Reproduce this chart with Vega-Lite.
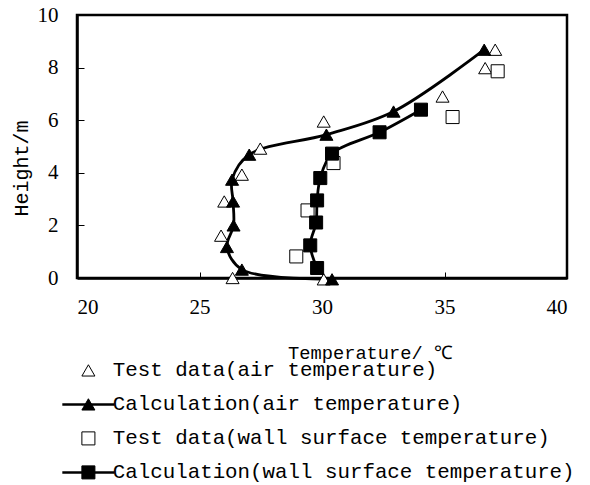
{
  "$schema": "https://vega.github.io/schema/vega-lite/v6.json",
  "autosize": {"type": "none"},
  "width": 490,
  "height": 263,
  "padding": {"left": 77, "top": 15, "right": 23, "bottom": 207},
  "background": "white",
  "config": {
    "view": {"stroke": "black", "strokeWidth": 2.5},
    "axis": {"grid": false, "domainColor": "black", "domainWidth": 2.5, "tickColor": "black", "tickWidth": 1, "labelColor": "black", "titleColor": "black", "labelFont": "Liberation Serif", "labelFontSize": 21, "titleFont": "Liberation Mono", "titleFontWeight": "normal"}
  },
  "resolve": {"scale": {"stroke": "independent"}, "legend": {"shape": "independent", "fill": "independent", "stroke": "independent"}},
  "data": {"values": [
    {"series": "Test data(air temperature)", "temp": 26.35, "height": 0.0},
    {"series": "Test data(air temperature)", "temp": 30.07, "height": -0.05},
    {"series": "Test data(air temperature)", "temp": 25.88, "height": 1.61},
    {"series": "Test data(air temperature)", "temp": 26.01, "height": 2.91},
    {"series": "Test data(air temperature)", "temp": 26.73, "height": 3.93},
    {"series": "Test data(air temperature)", "temp": 27.48, "height": 4.92},
    {"series": "Test data(air temperature)", "temp": 30.07, "height": 5.95},
    {"series": "Test data(air temperature)", "temp": 34.92, "height": 6.9},
    {"series": "Test data(air temperature)", "temp": 36.66, "height": 7.98},
    {"series": "Test data(air temperature)", "temp": 37.07, "height": 8.68},
    {"series": "Calculation(air temperature)", "temp": 30.41, "height": -0.05},
    {"series": "Calculation(air temperature)", "temp": 26.73, "height": 0.32},
    {"series": "Calculation(air temperature)", "temp": 26.12, "height": 1.18},
    {"series": "Calculation(air temperature)", "temp": 26.39, "height": 2.0},
    {"series": "Calculation(air temperature)", "temp": 26.37, "height": 2.91},
    {"series": "Calculation(air temperature)", "temp": 26.33, "height": 3.74},
    {"series": "Calculation(air temperature)", "temp": 27.03, "height": 4.69},
    {"series": "Calculation(air temperature)", "temp": 30.18, "height": 5.45},
    {"series": "Calculation(air temperature)", "temp": 32.92, "height": 6.33},
    {"series": "Calculation(air temperature)", "temp": 36.62, "height": 8.68},
    {"series": "Test data(wall surface temperature)", "temp": 28.95, "height": 0.82},
    {"series": "Test data(wall surface temperature)", "temp": 29.41, "height": 2.57},
    {"series": "Test data(wall surface temperature)", "temp": 30.47, "height": 4.37},
    {"series": "Test data(wall surface temperature)", "temp": 35.33, "height": 6.12},
    {"series": "Test data(wall surface temperature)", "temp": 37.17, "height": 7.86},
    {"series": "Calculation(wall surface temperature)", "temp": 29.8, "height": 0.38},
    {"series": "Calculation(wall surface temperature)", "temp": 29.52, "height": 1.24},
    {"series": "Calculation(wall surface temperature)", "temp": 29.76, "height": 2.11},
    {"series": "Calculation(wall surface temperature)", "temp": 29.8, "height": 2.95},
    {"series": "Calculation(wall surface temperature)", "temp": 29.93, "height": 3.8},
    {"series": "Calculation(wall surface temperature)", "temp": 30.41, "height": 4.73},
    {"series": "Calculation(wall surface temperature)", "temp": 32.35, "height": 5.54},
    {"series": "Calculation(wall surface temperature)", "temp": 34.04, "height": 6.4}
  ]},
  "encoding": {
    "x": {"field": "temp", "type": "quantitative", "scale": {"domain": [20, 40], "nice": false, "zero": false},
      "axis": {"values": [20, 25, 30, 35, 40], "tickSize": -6, "labelPadding": 24, "title": "Temperature/ ℃", "titleFontSize": 18.7, "titleX": 293, "titleY": 80, "titleAlign": "center", "titleBaseline": "alphabetic"}},
    "y": {"field": "height", "type": "quantitative", "scale": {"domain": [0, 10], "nice": false},
      "axis": {"values": [0, 2, 4, 6, 8, 10], "tickSize": -7, "labelPadding": 26, "title": "Height/m", "titleFontSize": 20, "titleX": -46, "titleY": 153, "titleAlign": "center"}}
  },
  "layer": [
    {
      "transform": [{"filter": "indexof(datum.series, 'Calculation') === 0"}],
      "mark": {"type": "line", "interpolate": "catmull-rom", "strokeWidth": 2.8},
      "encoding": {
        "order": {"field": "height", "type": "quantitative"},
        "stroke": {"field": "series", "type": "nominal",
          "scale": {"domain": ["Test data(air temperature)", "Calculation(air temperature)", "Test data(wall surface temperature)", "Calculation(wall surface temperature)"], "range": ["transparent", "black", "transparent", "black"]},
          "legend": {"orient": "none", "legendX": 1, "legendY": 345, "direction": "vertical", "title": null, "padding": 0, "labelFont": "Liberation Mono", "labelFontSize": 20.8, "labelExpr": "''", "labelLimit": 0, "labelOffset": 14, "rowPadding": 12, "symbolType": "M-4,0H4", "symbolSize": 170, "symbolStrokeWidth": 2.5}}
      }
    },
    {
      "mark": {"type": "point", "filled": true, "strokeWidth": 1, "opacity": 1, "size": 170},
      "encoding": {
        "shape": {"field": "series", "type": "nominal",
          "scale": {"domain": ["Test data(air temperature)", "Calculation(air temperature)", "Test data(wall surface temperature)", "Calculation(wall surface temperature)"], "range": ["triangle-up", "triangle-up", "square", "square"]},
          "legend": {"orient": "none", "legendX": 1, "legendY": 345, "direction": "vertical", "title": null, "padding": 0, "labelFont": "Liberation Mono", "labelFontSize": 20.8, "labelColor": "black", "labelLimit": 0, "labelOffset": 14, "rowPadding": 12, "symbolSize": 170, "symbolStrokeWidth": 1}},
        "fill": {"field": "series", "type": "nominal",
          "scale": {"domain": ["Test data(air temperature)", "Calculation(air temperature)", "Test data(wall surface temperature)", "Calculation(wall surface temperature)"], "range": ["white", "black", "white", "black"]},
          "legend": {"orient": "none", "legendX": 1, "legendY": 345, "direction": "vertical", "title": null, "padding": 0, "labelFont": "Liberation Mono", "labelFontSize": 20.8, "labelColor": "black", "labelLimit": 0, "labelOffset": 14, "rowPadding": 12, "symbolSize": 170, "symbolStrokeWidth": 1}},
        "stroke": {"field": "series", "type": "nominal",
          "scale": {"domain": ["Test data(air temperature)", "Calculation(air temperature)", "Test data(wall surface temperature)", "Calculation(wall surface temperature)"], "range": ["black", "black", "black", "black"]},
          "legend": {"orient": "none", "legendX": 1, "legendY": 345, "direction": "vertical", "title": null, "padding": 0, "labelFont": "Liberation Mono", "labelFontSize": 20.8, "labelColor": "black", "labelLimit": 0, "labelOffset": 14, "rowPadding": 12, "symbolSize": 170, "symbolStrokeWidth": 1}}
      }
    }
  ]
}
